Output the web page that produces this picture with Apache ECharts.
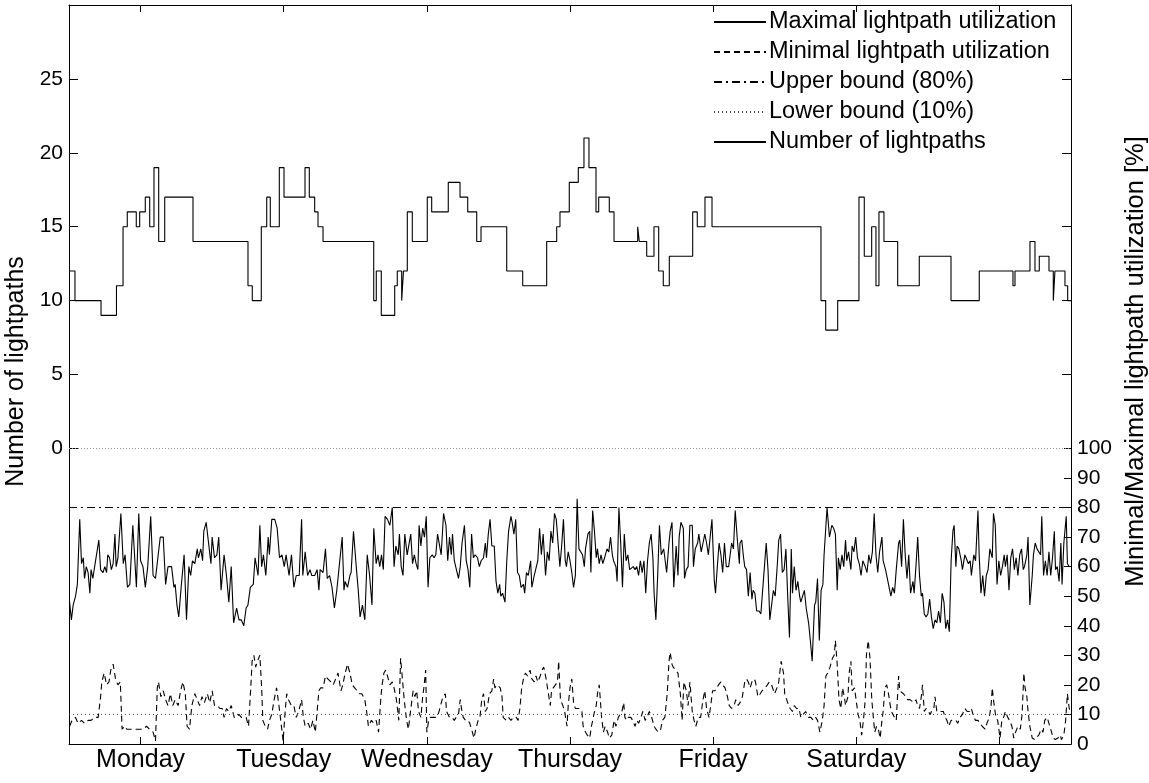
<!DOCTYPE html>
<html>
<head>
<meta charset="utf-8">
<title>Lightpath utilization over one week</title>
<script src="https://cdn.jsdelivr.net/npm/echarts@6/dist/echarts.min.js"></script>
<style>
  html, body { margin: 0; padding: 0; background: #fff; }
  #chart { width: 1149px; height: 783px; }
</style>
</head>
<body>
<div id="chart"></div>
<script>
// Hours since Monday 00:00; one week on the x axis.
const weekHours = 168;
const dayTicks = [12, 36, 60, 84, 108, 132, 156];
const dayNames = ['Monday', 'Tuesday', 'Wednesday', 'Thursday', 'Friday', 'Saturday', 'Sunday'];

// Number of established lightpaths: level changes (hour, count).
const lpHours = [0, 1.0, 5.37, 7.96, 9.06, 9.77, 11.28, 11.85, 12.79, 13.53,
  14.25, 15.04, 16.05, 20.79, 30.01, 30.73, 32.24, 33.15, 33.75, 35.26,
  36.05, 39.57, 40.29, 41.19, 41.75, 42.59, 51.09, 51.52, 52.36, 54.61,
  55.04, 55.78, 56.08, 56.72, 57.56, 60.07, 60.81, 63.59, 65.56, 66.85,
  68.36, 69.08, 73.39, 76.07, 80.09, 81.77, 82.32, 83.88, 85.39, 86.34,
  87.18, 88.36, 88.81, 90.59, 91.38, 95.35, 95.62, 96.86, 98.08, 98.87,
  99.64, 100.65, 104.57, 105.34, 106.63, 107.81, 126.08, 126.87, 128.88, 132.45,
  133.34, 134.58, 135.3, 135.8, 136.64, 138.94, 142.56, 147.88, 152.62, 158.27,
  158.61, 161.12, 161.96, 162.68, 164.31, 165.03, 165.31, 166.99, 167.44, 168];
const lpLevels = [12, 10, 9, 11, 15, 16, 15, 16, 17, 15,
  19, 14, 17, 14, 11, 10, 15, 17, 15, 19,
  17, 19, 17, 16, 15, 14, 10, 12, 9, 11,
  12, 10, 12, 16, 14, 17, 16, 18, 17, 16,
  14, 15, 12, 11, 14, 15, 16, 18, 19, 21,
  19, 16, 17, 16, 14, 15, 14, 13, 15, 12,
  11, 13, 16, 15, 17, 15, 10, 8, 10, 17,
  13, 15, 11, 16, 14, 11, 13, 10, 12, 11,
  12, 14, 12, 13, 12, 10, 12, 11, 10, 10];

// Maximal lightpath utilization [%]: [hour, percent].
const maxUtil = [
 [0.1,48],[0.4,42],[0.7,47],[1.1,50],[1.4,54],[1.8,76],[2.1,61],[2.4,63],[2.6,56],[2.9,60],
 [3.2,58],[3.5,51],[3.7,59],[4.0,56],[4.3,60],[4.6,60],[5.0,69],[5.3,59],[5.7,58],[6.0,60],
 [6.3,58],[6.5,64],[6.8,63],[7.1,59],[7.4,61],[7.7,71],[7.9,60],[8.2,63],[8.7,78],[9.1,61],
 [9.4,64],[9.8,53],[10.2,54],[10.7,74],[11.3,53],[11.7,78],[12.0,62],[12.4,60],[12.8,53],[13.2,60],
 [13.7,77],[14.1,57],[14.5,56],[14.9,63],[15.3,70],[15.8,70],[16.2,54],[16.6,60],[17.2,60],[17.6,53],
 [17.8,54],[18.1,47],[18.4,43],[18.8,53],[19.3,64],[19.7,42],[20.1,60],[20.4,57],[20.7,62],[21.1,61],
 [21.5,66],[21.7,63],[22.1,66],[22.4,62],[22.6,72],[23.0,75],[23.4,68],[23.8,61],[24.0,70],[24.4,63],
 [24.8,64],[25.1,70],[25.5,52],[26.0,64],[26.4,57],[26.8,48],[27.2,60],[27.6,41],[28.1,46],[28.5,42],
 [28.9,42],[29.3,40],[29.7,46],[30.0,47],[30.4,53],[30.9,54],[31.2,63],[31.7,57],[32.0,74],[32.3,60],
 [32.6,64],[33.0,57],[33.4,70],[33.6,64],[34.0,76],[34.5,76],[34.9,73],[35.3,63],[35.7,64],[36.1,60],
 [36.4,64],[36.9,57],[37.3,64],[37.7,53],[38.1,57],[38.6,57],[39.0,76],[39.2,57],[39.6,65],[40.0,57],
 [40.4,59],[40.7,57],[41.2,57],[41.6,59],[41.9,52],[42.1,59],[42.6,58],[43.0,66],[43.3,56],[43.7,57],
 [44.1,53],[44.5,46],[44.9,52],[45.3,60],[45.8,70],[46.1,52],[46.3,55],[46.7,53],[47.1,57],[47.3,58],
 [47.7,72],[48.2,59],[48.5,52],[48.8,43],[49.2,47],[49.6,42],[50.0,64],[50.4,57],[50.8,47],[51.1,73],
 [51.5,61],[51.8,64],[52.1,60],[52.4,64],[52.7,59],[53.0,77],[53.4,76],[53.8,74],[54.2,80],[54.5,60],
 [54.8,67],[55.2,64],[55.4,71],[55.7,60],[56.0,57],[56.3,71],[56.7,64],
 [57.0,64],[57.3,71],[57.6,61],[57.9,64],[58.2,61],[58.5,59],[58.7,74],[59.0,67],[59.3,73],[59.6,70],
 [59.9,77],[60.2,53],[60.5,63],[60.9,64],[61.2,63],[61.5,64],[61.8,71],[62.1,71],[62.4,64],[62.8,78],
 [63.2,74],[63.5,62],[63.8,70],[64.1,64],[64.3,71],[64.6,62],[64.9,62],[65.3,56],[65.6,60],[65.9,68],
 [66.3,74],[66.6,62],[66.9,59],[67.2,53],[67.5,71],[67.8,63],[68.1,64],[68.5,63],[68.8,60],[69.1,62],
 [69.5,63],[69.8,68],[70.0,63],[70.3,71],[70.6,76],[70.9,67],[71.3,67],[71.6,55],[71.9,51],[72.2,54],
 [72.4,50],[72.7,51],[73.1,48],[73.4,62],[73.7,72],[74.1,77],[74.3,75],[74.6,71],[74.9,76],[75.2,58],
 [75.5,57],[75.8,53],[76.2,54],[76.4,51],[76.7,58],[77.0,57],[77.4,62],[77.6,53],[78.0,57],[78.3,57],
 [78.6,62],[78.9,73],[79.2,64],[79.5,71],[79.9,57],[80.2,65],[80.5,62],[80.8,72],[81.1,68],[81.4,78],
 [81.7,76],[82.0,76],[82.3,60],[82.6,67],[82.9,76],[83.2,62],[83.4,60],[83.7,65],[84.0,62],[84.3,58],
 [84.6,53],[84.9,57],[85.2,83],[85.5,66],[85.7,66],[86.1,64],[86.4,60],[86.6,66],[87.0,71],[87.3,72],
 [87.5,58],[87.8,79],[88.1,72],[88.4,63],[88.6,66],[88.9,61],[89.2,64],[89.5,61],[89.8,63],[90.2,66],
 [90.5,65],[90.8,70],[91.1,64],[91.3,62],[91.7,60],[91.9,55],[92.2,80],[92.5,68],[92.8,53],[93.1,71],
 [93.4,62],[93.7,64],[94.0,59],[94.3,59],[94.6,60],[94.9,59],[95.2,60],[95.5,57],[95.8,62],[96.1,58],
 [96.4,62],[96.7,51],[97.0,62],[97.3,68],[97.6,71],[97.9,63],[98.1,51],[98.4,42],[98.7,57],[99.0,74],
 [99.3,64],[99.7,66],[99.9,63],[100.2,58],[100.6,68],[100.8,72],[101.1,75],[101.4,53],[101.8,67],[102.1,57],
 [102.3,70],[102.6,75],[103.0,73],[103.2,56],[103.5,59],[103.8,60],[104.1,74],[104.5,74],[104.7,60],[105.0,66],
 [105.4,68],[105.6,71],[106.0,65],[106.3,68],[106.6,71],[106.9,68],[107.2,64],[107.5,70],[107.8,76],[108.2,55],
 [108.4,51],[108.7,60],[109.0,68],[109.3,64],[109.6,58],[109.9,68],[110.2,60],[110.6,60],[110.8,60],[111.1,68],
 [111.4,66],[111.7,79],[112.1,68],[112.4,61],
 [112.5,68],[112.8,69],[113.1,63],[113.3,60],[113.6,59],[113.9,50],[114.2,58],[114.5,49],[114.7,52],[115.0,51],
 [115.3,45],[115.7,45],[116.0,44],[116.3,52],[116.6,60],[116.9,68],[117.2,59],[117.5,42],[117.8,42],[118.1,52],
 [118.4,50],[118.8,62],[119.0,69],[119.3,71],[119.6,58],[119.9,59],[120.2,66],[120.5,50],[120.8,36],[121.1,66],
 [121.3,51],[121.6,60],[121.9,52],[122.2,55],[122.5,50],[122.7,48],[123.0,50],[123.3,52],[123.6,46],[124.0,41],
 [124.3,35],[124.6,28],[125.0,47],[125.2,48],[125.5,56],[125.8,35],[126.1,52],[126.4,54],[126.6,64],[126.9,64],
 [127.1,80],[127.5,70],[127.9,74],[128.2,73],[128.5,71],[128.8,52],[129.0,63],[129.3,59],[129.6,64],[129.9,60],
 [130.2,69],[130.4,62],[130.7,65],[131.1,59],[131.3,67],[131.6,65],[131.9,70],[132.2,63],[132.5,61],[132.8,57],
 [133.1,62],[133.5,60],[133.8,58],[134.1,64],[134.4,61],[134.7,65],[135.0,78],[135.3,64],[135.6,58],[135.9,65],
 [136.3,70],[136.5,62],[136.9,59],[137.2,56],[137.5,56],[137.8,50],[138.1,53],[138.4,51],[138.7,59],[139.1,68],
 [139.3,69],[139.6,60],[139.9,76],[140.2,64],[140.5,56],[140.8,64],[141.1,51],[141.5,55],[141.7,51],[142.0,60],
 [142.3,70],[142.6,57],[142.9,50],[143.1,51],[143.4,44],[143.7,43],[144.0,44],[144.3,49],[144.6,43],[144.9,39],
 [145.2,42],[145.5,41],[145.8,45],[146.1,41],[146.4,51],[146.7,48],[147.0,39],[147.3,42],[147.6,38],[147.9,62],
 [148.2,72],[148.4,74],[148.7,60],[148.9,67],[149.2,66],[149.6,62],[149.8,59],[150.2,64],[150.5,64],[150.8,61],
 [151.1,62],[151.3,57],[151.7,64],[152.0,62],[152.4,79],[152.6,64],[152.9,51],[153.2,57],[153.5,50],[153.8,57],
 [154.1,59],[154.4,66],[154.8,63],[155.0,78],[155.3,74],[155.6,54],[155.9,62],[156.2,57],[156.5,60],[156.8,64],
 [157.0,60],[157.3,64],[157.6,52],[157.9,63],[158.2,66],[158.5,59],[158.8,63],[159.1,57],[159.4,64],[159.7,66],
 [160.0,59],[160.2,60],[160.6,64],[160.8,70],[161.1,47],[161.5,57],[161.7,64],[162.0,68],[162.3,66],[162.6,66],
 [162.9,64],[163.1,77],[163.4,57],[163.7,62],[164.0,57],[164.3,65],[164.6,57],[164.9,63],[165.2,72],[165.4,59],
 [165.7,60],[166.0,55],[166.3,68],[166.5,54],[166.8,68],[167.2,77],[167.4,61],[167.7,60]
];

// Minimal lightpath utilization [%]: [hour, percent].
const minUtil = [
 [0.1,6],[0.5,8],[1.1,9],[1.5,7],[2.1,8],[2.6,7],[3.2,8],[3.7,8],[4.3,9],[4.9,9],
 [5.3,16],[5.5,21],[5.9,24],[6.3,20],[6.7,21],[7.0,25],[7.4,27],[7.8,22],[8.2,20],[8.6,21],
 [8.9,5],[9.3,6],[9.7,5],[10.2,5],[10.7,5],[11.3,5],[11.9,5],[12.4,5],[13.0,6],[13.5,5],
 [14.1,4],[14.5,1],[14.8,19],[15.0,21],[15.4,16],[15.8,18],[16.2,15],[16.6,13],[17.0,17],[17.4,13],
 [17.8,15],[18.3,13],[18.7,18],[19.1,21],[19.5,17],[19.8,6],[20.2,5],[20.6,13],[21.1,17],[21.5,15],
 [21.9,13],[22.3,16],[22.7,14],[23.2,17],[23.6,14],[24.0,18],[24.4,13],[24.9,13],[25.3,12],[25.7,12],
 [26.0,9],[26.4,12],[26.8,11],[27.2,13],[27.7,9],[28.1,9],[28.5,10],[28.9,9],[29.3,9],[29.7,9],
 [30.1,6],[30.5,20],[30.7,28],[31.0,30],[31.3,26],[31.6,28],[32.0,30],[32.3,19],[32.5,8],[32.9,6],
 [33.3,5],[33.6,8],[34.0,10],[34.4,15],[34.8,19],[35.2,13],[35.5,8],[35.9,1],[36.2,10],[36.5,17],
 [36.8,15],[37.3,13],[37.7,13],[38.1,9],[38.5,11],[39.0,15],[39.3,9],[39.6,6],[40.1,7],[40.5,5],
 [40.9,8],[41.3,4],[41.6,11],[41.9,18],[42.2,19],[42.6,19],[43.0,23],[43.4,22],[43.9,21],[44.3,20],
 [44.7,22],[45.1,24],[45.6,18],[45.9,20],[46.3,24],[46.7,27],[47.1,24],[47.5,20],[47.9,19],[48.3,18],
 [48.7,17],[49.1,17],[49.6,15],[49.9,11],[50.2,6],[50.7,8],[51.1,7],[51.5,8],[51.9,4],[52.3,16],
 [52.5,20],[52.8,24],[53.1,25],[53.4,23],[53.8,20],[54.2,21],[54.5,19],[54.9,15],[55.3,8],[55.6,29],
 [55.9,22],[56.2,15],[56.6,8],
 [56.9,5],[57.2,10],[57.5,15],[57.7,18],[58.0,16],[58.3,18],[58.6,11],[59.0,9],[59.3,16],[59.5,19],
 [59.8,25],[60.0,4],[60.3,8],[60.6,9],[61.1,9],[61.5,9],[61.9,10],[62.3,13],[62.7,16],[63.1,17],
 [63.3,11],[63.8,9],[64.2,9],[64.6,8],[64.9,9],[65.3,10],[65.6,15],[65.8,12],[66.1,9],[66.5,8],
 [66.9,8],[67.2,7],[67.5,5],[67.9,2],[68.2,5],[68.6,8],[68.9,9],[69.2,15],[69.5,17],[69.8,11],
 [70.1,12],[70.5,17],[70.9,18],[71.2,22],[71.4,19],[71.8,20],[72.3,19],[72.6,16],[72.8,9],[73.3,8],
 [73.7,9],[74.1,8],[74.5,9],[75.0,9],[75.3,8],[75.6,12],[75.9,19],[76.2,22],[76.5,24],[76.9,23],
 [77.3,25],[77.6,22],[78.0,21],[78.3,23],[78.6,21],[79.0,23],[79.3,25],[79.6,26],[80.0,22],[80.3,18],
 [80.7,13],[80.9,18],[81.2,19],[81.5,19],[81.9,21],[82.1,28],[82.4,15],[82.8,13],[83.1,11],[83.5,6],
 [83.7,13],[84.0,19],[84.3,22],[84.6,14],[84.9,12],[85.2,12],[85.6,12],[86.0,11],[86.2,6],[86.6,4],
 [86.9,3],[87.3,2],[87.6,6],[88.0,10],[88.4,13],[88.6,17],[88.9,20],[89.3,9],[89.6,4],[89.9,6],
 [90.3,4],[90.6,2],[91.0,3],[91.4,8],[91.7,6],[92.1,9],[92.4,10],[92.7,11],[93.0,14],[93.2,9],
 [93.5,8],[93.8,9],[94.2,9],[94.5,8],[94.9,6],[95.2,8],[95.5,7],[95.9,9],[96.2,11],[96.6,8],
 [96.9,9],[97.3,11],[97.7,9],[98.1,6],[98.4,5],[98.8,4],[99.2,5],[99.5,8],[99.9,9],[100.3,17],
 [100.6,28],[100.8,31],[101.1,27],[101.3,26],[101.7,25],[102.1,24],[102.5,17],[102.8,8],[103.1,21],[103.5,18],
 [103.8,13],[104.1,21],[104.5,11],[104.8,8],[105.1,6],[105.5,9],[105.9,9],[106.3,15],[106.6,18],[106.9,12],
 [107.3,9],[107.6,13],[107.9,18],[108.3,18],[108.6,18],[108.9,20],[109.3,21],[109.6,20],[110.0,19],[110.4,16],
 [110.7,13],[111.1,12],[111.5,13],[111.8,15],[112.2,13],
 [112.5,14],[112.9,16],[113.3,21],[113.6,22],[113.9,21],[114.2,19],[114.5,21],[114.9,22],[115.1,21],[115.5,16],
 [115.9,17],[116.2,18],[116.7,19],[117.1,20],[117.4,21],[117.8,20],[118.3,17],[118.7,19],[119.0,21],[119.4,28],
 [119.8,24],[120.0,17],[120.5,14],[120.9,12],[121.3,11],[121.6,13],[122.0,12],[122.4,12],[122.7,9],[123.1,10],
 [123.5,11],[124.0,9],[124.4,9],[124.8,8],[125.2,9],[125.5,8],[125.9,4],[126.3,8],[126.6,13],[126.9,23],
 [127.2,24],[127.6,26],[128.0,29],[128.3,30],[128.5,35],[128.8,27],[129.1,15],[129.4,12],[129.7,19],[130.0,16],
 [130.2,13],[130.6,16],[130.8,24],[131.1,28],[131.3,18],[131.7,19],[132.1,13],[132.3,10],[132.6,8],[132.9,3],
 [133.2,8],[133.5,15],[133.7,30],[134.0,35],[134.3,29],[134.6,15],[134.9,8],[135.1,4],[135.4,6],[135.7,5],
 [136.0,2],[136.3,8],[136.5,11],[136.8,19],[137.1,20],[137.4,17],[137.7,13],[137.9,11],[138.4,9],[138.7,8],
 [139.1,23],[139.3,18],[139.6,18],[139.9,17],[140.3,16],[140.6,15],[141.0,15],[141.3,15],[141.7,14],[142.0,15],
 [142.3,13],[142.6,12],[142.9,16],[143.1,20],[143.4,11],[143.7,12],[144.0,12],[144.4,10],[144.6,11],[145.0,12],
 [145.2,16],[145.5,11],[145.9,11],[146.2,11],[146.6,11],[146.9,9],[147.2,8],[147.5,6],[147.9,8],[148.3,8],
 [148.7,8],[149.0,7],[149.4,9],[149.8,10],[150.2,12],[150.6,11],[151.0,11],[151.3,12],[151.7,9],[152.0,8],
 [152.4,8],[152.7,8],[153.1,6],[153.6,5],[153.9,7],[154.3,9],[154.6,13],[154.8,19],[155.0,15],[155.4,9],
 [155.7,8],[156.1,2],[156.4,8],[156.7,9],[157.0,11],[157.4,9],[157.7,8],[158.1,6],[158.4,2],[158.7,4],
 [159.1,6],[159.5,5],[159.8,10],[160.1,24],[160.3,19],[160.6,16],[160.8,11],[161.1,6],[161.5,2],[161.9,1.5],
 [162.2,1],[162.6,3],[163.0,5],[163.3,4],[163.6,8],[164.0,9],[164.3,9],[164.6,5],[165.0,2],[165.4,1.5],
 [165.8,2],[166.2,3],[166.4,1.5],[166.8,3],[167.1,8],[167.4,17],[167.7,12],[168.0,11]
];

// Operating thresholds [%].
const upperBound = 80;
const lowerBound = 10;

// Left axis: lightpath count, shares the plot with the utilization axis.
const lpAxisMin = -20, lpAxisMax = 30;
const lpTickValues = [0, 5, 10, 15, 20, 25];
// Right axis: utilization, visible only for 0..100 %.
const utilAxisMin = 0, utilAxisMax = 250;
const utilTickValues = [0, 10, 20, 30, 40, 50, 60, 70, 80, 90, 100];

const font = "'Liberation Sans', Arial, Helvetica, sans-serif";
const ink = '#000';
const lineWidth = 1.1;

const lpSteps = lpHours.map((h, i) => [h, lpLevels[i]]);

const chart = echarts.init(document.getElementById('chart'), null, { renderer: 'canvas' });

const axisCommon = {
  axisLine: { show: true, onZero: false, lineStyle: { color: ink, width: 1 } },
  splitLine: { show: false },
  minorTick: { show: false }
};

chart.setOption({
  animation: false,
  backgroundColor: '#fff',
  textStyle: { fontFamily: font, color: ink },
  grid: { left: 69, right: 78, top: 5, bottom: 39, containLabel: false, outerBoundsMode: 'none' },
  legend: {
    orient: 'vertical',
    left: 713,
    top: 10,
    padding: 0,
    itemWidth: 52,
    itemHeight: 14,
    itemGap: 6,
    selectedMode: false,
    itemStyle: { opacity: 0, borderWidth: 0 },
    textStyle: { fontFamily: font, fontSize: 23.5, color: ink, lineHeight: 24, padding: [0, 0, 0, -2] },
    data: ['Maximal lightpath utilization', 'Minimal lightpath utilization',
           'Upper bound (80%)', 'Lower bound (10%)', 'Number of lightpaths']
  },
  xAxis: [
    Object.assign({}, axisCommon, {
      type: 'value', position: 'bottom', min: 0, max: weekHours,
      axisTick: { show: true, inside: true, length: 7, customValues: dayTicks, lineStyle: { color: ink } },
      axisLabel: {
        show: true, customValues: dayTicks, margin: 4,
        fontFamily: font, fontSize: 25, color: ink,
        formatter: v => dayNames[dayTicks.indexOf(v)] || ''
      }
    }),
    Object.assign({}, axisCommon, {
      type: 'value', position: 'top', min: 0, max: weekHours,
      axisTick: { show: true, inside: true, length: 7, customValues: dayTicks, lineStyle: { color: ink } },
      axisLabel: { show: false }
    })
  ],
  yAxis: [
    Object.assign({}, axisCommon, {
      type: 'value', position: 'left', min: lpAxisMin, max: lpAxisMax,
      name: 'Number of lightpaths', nameLocation: 'middle', nameGap: 37,
      nameTextStyle: { fontFamily: font, fontSize: 25, color: ink, padding: [0, 0, 0, 6] },
      axisTick: { show: true, inside: true, length: 9, customValues: lpTickValues, lineStyle: { color: ink } },
      axisLabel: { show: true, customValues: lpTickValues, margin: 6, fontFamily: font, fontSize: 21, color: ink }
    }),
    Object.assign({}, axisCommon, {
      type: 'value', position: 'right', min: utilAxisMin, max: utilAxisMax,
      name: 'Minimal/Maximal lightpath utilization [%]', nameLocation: 'middle', nameGap: 50,
      nameRotate: 90,
      nameTextStyle: { fontFamily: font, fontSize: 25.5, color: ink, padding: [0, 0, 0, 26] },
      axisTick: { show: true, inside: true, length: 7, customValues: utilTickValues, lineStyle: { color: ink } },
      axisLabel: { show: true, customValues: utilTickValues, margin: 6, fontFamily: font, fontSize: 21, color: ink }
    }),
    Object.assign({}, axisCommon, {
      type: 'value', position: 'right', min: lpAxisMin, max: lpAxisMax,
      axisTick: { show: true, inside: true, length: 9, customValues: lpTickValues.slice(1), lineStyle: { color: ink } },
      axisLabel: { show: false }
    })
  ],
  series: [
    {
      name: 'Maximal lightpath utilization', type: 'line', xAxisIndex: 0, yAxisIndex: 1,
      data: maxUtil, symbol: 'none', showSymbol: false, silent: true,
      lineStyle: { color: ink, width: lineWidth, type: 'solid' }, itemStyle: { color: ink }
    },
    {
      name: 'Minimal lightpath utilization', type: 'line', xAxisIndex: 0, yAxisIndex: 1,
      data: minUtil, symbol: 'none', showSymbol: false, silent: true,
      lineStyle: { color: ink, width: lineWidth, type: [6, 4] }, itemStyle: { color: ink }
    },
    {
      name: 'Upper bound (80%)', type: 'line', xAxisIndex: 0, yAxisIndex: 1,
      data: [[0, upperBound], [weekHours, upperBound]], symbol: 'none', showSymbol: false, silent: true,
      lineStyle: { color: ink, width: 1, type: [8, 4, 2, 4] }, itemStyle: { color: ink }
    },
    {
      name: 'Lower bound (10%)', type: 'line', xAxisIndex: 0, yAxisIndex: 1,
      data: [[0, lowerBound], [weekHours, lowerBound]], symbol: 'none', showSymbol: false, silent: true,
      lineStyle: { color: '#444', width: 1, type: [1, 3] }, itemStyle: { color: '#444' }
    },
    {
      name: 'Number of lightpaths', type: 'line', xAxisIndex: 0, yAxisIndex: 0,
      data: lpSteps, step: 'end', symbol: 'none', showSymbol: false, silent: true,
      lineStyle: { color: ink, width: lineWidth }, itemStyle: { color: ink },
      markLine: {
        silent: true, symbol: 'none', label: { show: false },
        lineStyle: { color: '#9a9a9a', width: 1, type: [1, 2] },
        data: [{ yAxis: 0 }]
      }
    }
  ]
});
</script>
</body>
</html>
